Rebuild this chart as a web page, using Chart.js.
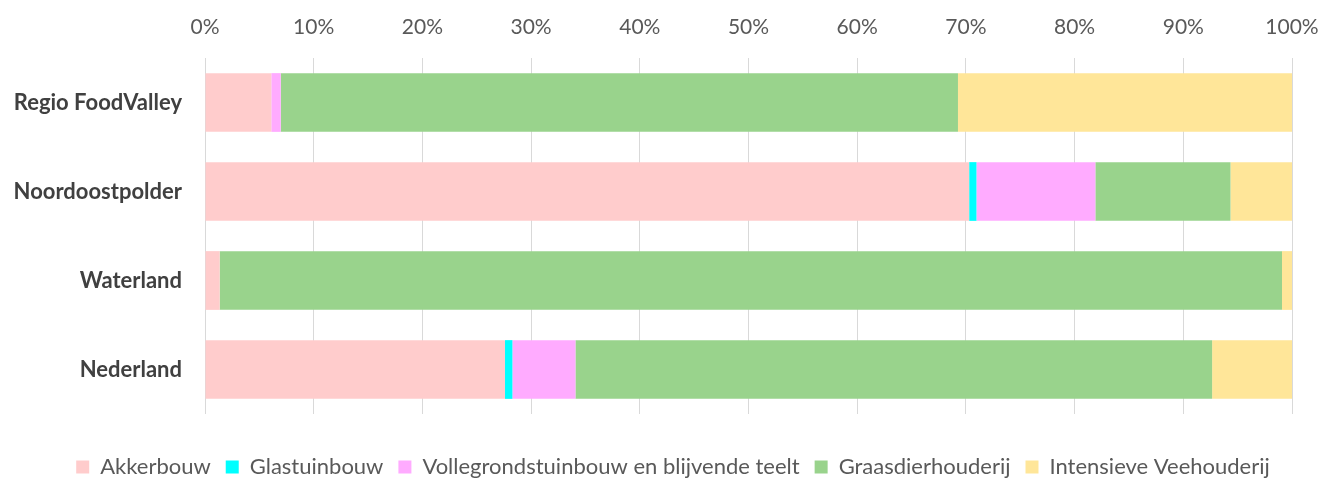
<!DOCTYPE html>
<html>
<head>
<meta charset="utf-8">
<script src="https://cdn.jsdelivr.net/npm/chart.js@4/dist/chart.umd.min.js"></script>
<style>
  html, body { margin: 0; padding: 0; background: #fff; }
  #wrap { width: 1333px; height: 478px; }
</style>
</head>
<body>
<div id="wrap"><canvas id="chart"></canvas></div>
<script>
// Categories (top to bottom)
const regions = ['Regio FoodValley', 'Noordoostpolder', 'Waterland', 'Nederland'];

// Share of each sector per region (%)
const akkerbouw = [6.1, 70.3, 1.35, 27.6];
const glastuinbouw = [0, 0.67, 0, 0.68];
const vollegrond = [0.87, 10.94, 0, 5.8];
const graasdier = [62.3, 12.43, 97.73, 58.57];
const intensieve = [30.73, 5.66, 0.92, 7.35];

const xTicks = [0, 10, 20, 30, 40, 50, 60, 70, 80, 90, 100];

const fontFamily = 'Lato, "Noto Sans", sans-serif';

function ds(label, data, color) {
    return {
        label: label,
        data: data,
        backgroundColor: color,
        borderWidth: 0,
        barPercentage: 0.66,
        categoryPercentage: 1.0
    };
}

// Legend sits a bit right of the canvas centre in the original
const legendShift = {
    id: 'legendShift',
    afterLayout: function(chart) {
        if (chart.legend) {
            chart.legend.left += 27;
            chart.legend.right += 27;
        }
    }
};

document.addEventListener('DOMContentLoaded', function() {
    const ctx = document.getElementById('chart').getContext('2d');
    new Chart(ctx, {
        type: 'bar',
        data: {
            labels: regions,
            datasets: [
                ds('Akkerbouw', akkerbouw, '#FFCCCC'),
                ds('Glastuinbouw', glastuinbouw, '#00FFFF'),
                ds('Vollegrondstuinbouw en blijvende teelt', vollegrond, '#FFABFF'),
                ds('Graasdierhouderij', graasdier, '#99D38C'),
                ds('Intensieve Veehouderij', intensieve, '#FFE699')
            ]
        },
        plugins: [legendShift],
        options: {
            indexAxis: 'y',
            responsive: true,
            maintainAspectRatio: false,
            animation: false,
            layout: { padding: { left: 0, right: 41, top: 0, bottom: -10 } },
            plugins: {
                tooltip: { enabled: false },
                legend: {
                    position: 'bottom',
                    labels: {
                        boxWidth: 13,
                        boxHeight: 13,
                        padding: 15,
                        color: '#595959',
                        font: { family: fontFamily, size: 22 }
                    }
                }
            },
            scales: {
                x: {
                    position: 'top',
                    stacked: true,
                    min: 0,
                    max: 100,
                    afterBuildTicks: function(scale) {
                        scale.ticks = xTicks.map(v => ({ value: v }));
                    },
                    afterFit: function(scale) {
                        scale.height = 58;
                        scale.paddingLeft = 0;
                        scale.paddingRight = 0;
                    },
                    ticks: {
                        color: '#595959',
                        padding: 18,
                        font: { family: fontFamily, size: 21 },
                        callback: v => v + '%'
                    },
                    grid: { color: '#D9D9D9', lineWidth: 1, drawTicks: false },
                    border: { display: false }
                },
                x2: {
                    type: 'linear',
                    position: 'bottom',
                    display: true,
                    afterFit: function(scale) {
                        scale.height = 27;
                        scale.paddingLeft = 0;
                        scale.paddingRight = 0;
                    },
                    ticks: { display: false },
                    grid: { display: false },
                    border: { display: false }
                },
                y: {
                    stacked: true,
                    afterFit: function(scale) { scale.width = 205; },
                    ticks: {
                        color: '#404040',
                        padding: 23,
                        font: { family: fontFamily, size: 22, weight: 'bold' }
                    },
                    grid: { display: false, drawTicks: false },
                    border: { display: false }
                }
            }
        }
    });
});
</script>
</body>
</html>
